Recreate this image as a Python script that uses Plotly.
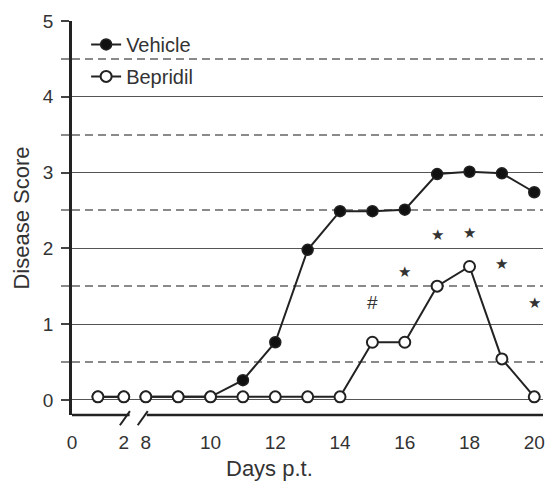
import plotly.graph_objects as go

# ---- data ----
days = [1, 2, 8, 9, 10, 11, 12, 13, 14, 15, 16, 17, 18, 19, 20]
vehicle = [0.04, 0.04, 0.04, 0.04, 0.04, 0.26, 0.76, 1.98, 2.49, 2.49, 2.51, 2.98, 3.01, 2.99, 2.74]
bepridil = [0.04, 0.04, 0.04, 0.04, 0.04, 0.04, 0.04, 0.04, 0.04, 0.76, 0.76, 1.50, 1.76, 0.54, 0.04]
tick_days = [0, 2, 8, 10, 12, 14, 16, 18, 20]
tick_labels = ["0", "2", "8", "10", "12", "14", "16", "18", "20"]
sig_days = [15, 16, 17, 18, 19, 20]
sig_marks = ["#", "★", "★", "★", "★", "★"]
sig_y = [1.28, 1.69, 2.18, 2.2, 1.79, 1.28]

# broken axis: days 0-2 compressed, gap 2 -> 8
def pos(d):
    return d * 0.8 if d <= 2 else d - 5.72

def with_gap(xs, ys):
    ox, oy = [], []
    for i, (d, v) in enumerate(zip(xs, ys)):
        if i > 0 and xs[i - 1] <= 2 < d:
            ox.append(None); oy.append(None)
        ox.append(pos(d)); oy.append(v)
    return ox, oy

FONT = "Arial, Liberation Sans, sans-serif"
TXT = "#333333"
LINE = "#222222"

fig = go.Figure()
vx, vy = with_gap(days, vehicle)
bx, by = with_gap(days, bepridil)
fig.add_trace(go.Scatter(x=vx, y=vy, mode="lines+markers", name="Vehicle",
                         legendgroup="v", connectgaps=False, cliponaxis=False,
                         line=dict(color=LINE, width=2),
                         marker=dict(symbol="circle", size=11, color="#111111",
                                     line=dict(color=LINE, width=1.5))))
fig.add_trace(go.Scatter(x=bx, y=by, mode="lines+markers", name="Bepridil",
                         legendgroup="b", connectgaps=False, cliponaxis=False,
                         line=dict(color=LINE, width=2),
                         marker=dict(symbol="circle", size=11, color="white",
                                     line=dict(color=LINE, width=2))))

for d, m, y in zip(sig_days, sig_marks, sig_y):
    if m == "#":
        f = dict(family=FONT, size=19, color=TXT)
    else:
        f = dict(family="DejaVu Sans, sans-serif", size=15, color=TXT)
    fig.add_annotation(x=pos(d), y=y, text=m, showarrow=False, font=f)

# x axis line with break
x_break_l = 1.78
x_break_r = 2.31
fig.add_shape(type="line", xref="x", yref="paper", x0=0, x1=x_break_l, y0=0, y1=0,
              line=dict(color=LINE, width=2.5))
fig.add_shape(type="line", xref="x", yref="paper", x0=x_break_r, x1=14.6, y0=0, y1=0,
              line=dict(color=LINE, width=2.5))
for x0 in [1.48, 2.03]:
    fig.add_shape(type="line", xref="x", yref="paper", x0=x0, x1=x0 + 0.31,
                  y0=-0.026, y1=0.01, line=dict(color=LINE, width=2))

fig.add_annotation(xref="paper", yref="paper", x=0.419, y=-0.135, yanchor="middle",
                   text="Days p.t.", showarrow=False,
                   font=dict(family=FONT, size=22, color=TXT))

fig.update_layout(
    width=545, height=484,
    margin=dict(l=72, r=0, t=21, b=69),
    paper_bgcolor="white", plot_bgcolor="white",
    font=dict(family=FONT, size=19, color=TXT),
    showlegend=True,
    legend=dict(x=0.03, y=0.99, xanchor="left", yanchor="top",
                bgcolor="rgba(0,0,0,0)", traceorder="grouped", tracegroupgap=3,
                font=dict(size=20, family=FONT, color=TXT)),
    xaxis=dict(range=[0, 14.55], showgrid=False, zeroline=False, showline=False,
               tickmode="array", tickvals=[pos(d) for d in tick_days], ticktext=tick_labels,
               ticks="outside", ticklen=10, tickcolor="rgba(0,0,0,0)",
               ticklabeloverflow="allow",
               tickfont=dict(size=19, family=FONT, color=TXT)),
    yaxis=dict(range=[-0.2, 5], zeroline=False, showline=True, linecolor=LINE, linewidth=2.5,
               tickmode="array", tickvals=[0, 1, 2, 3, 4, 5],
               ticks="outside", ticklen=8, tickcolor="#444444", tickwidth=1.5,
               showgrid=True, gridcolor="#555555", gridwidth=1.2,
               tickfont=dict(size=19, family=FONT, color=TXT), ticklabelstandoff=4,
               title=dict(text="Disease Score", font=dict(size=22, family=FONT, color=TXT),
                          standoff=8),
               minor=dict(tickvals=[0.5, 1.5, 2.5, 3.5, 4.5], showgrid=True,
                          gridcolor="#8a8a8a", gridwidth=1.5, griddash="8px,5px",
                          ticks="outside", ticklen=8, tickcolor="#8a8a8a", tickwidth=1.5)),
)

fig.write_html("out.html")
